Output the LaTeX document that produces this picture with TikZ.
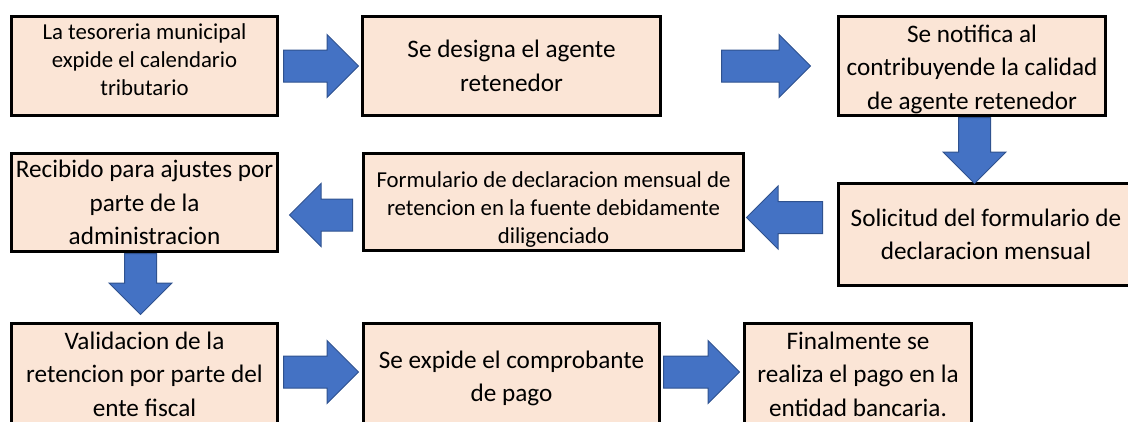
\documentclass[tikz,border=0pt]{standalone}
\usepackage{fontspec}
\setmainfont{Carlito}
\usepackage{tikz}
\usetikzlibrary{shapes.arrows}
\usepackage{xcolor}
\definecolor{boxfill}{HTML}{FBE5D6}
\definecolor{arrowblue}{HTML}{4472C4}
\definecolor{arrowedge}{HTML}{2F528F}

\tikzset{
  box/.style={draw=black, fill=boxfill, line width=3pt, align=center, inner sep=1pt,
    font=\fontsize{25.2}{33.5}\selectfont},
  smallbox/.style={box, font=\fontsize{22.8}{28}\selectfont},
  barrow/.style={single arrow, fill=arrowblue, draw=arrowedge, line width=1pt,
    minimum width=62pt, single arrow head extend=15.5pt, single arrow tip angle=90,
    inner xsep=0pt, inner ysep=15.5pt, text height=0pt, text depth=0pt, anchor=tail}
}

\begin{document}
\begin{tikzpicture}[x=1pt,y=-1pt]
\useasboundingbox (0,0) rectangle (1128,421);
\clip (0,0) rectangle (1128,421);

% First row of steps
\node[smallbox, minimum width=266pt, minimum height=99pt] (tesoreria) at (144.5,66)
  {La tesoreria municipal\\expide el calendario\\tributario\rule[-12pt]{0pt}{0pt}};
\node[box, minimum width=298pt, minimum height=99pt] (designa) at (511.5,66)
  {Se designa el agente\\retenedor};
\node[box, minimum width=267pt, minimum height=99pt] (notifica) at (972,66)
  {\rule{0pt}{24pt}Se notifica al\\contribuyende la calidad\\de agente retenedor};

% Second row, read from right to left
\node[box, minimum width=295pt, minimum height=102pt] (solicitud) at (986,234.5)
  {Solicitud del formulario de\\declaracion mensual};
\node[smallbox, minimum width=380pt, minimum height=97pt] (formulario) at (553.5,202)
  {\rule{0pt}{31pt}Formulario de declaracion mensual de\\retencion en la fuente debidamente\\diligenciado};
\node[box, minimum width=266pt, minimum height=98pt] (recibido) at (144.5,202.5)
  {Recibido para ajustes por\\parte de la\\administracion};

% Third row
\node[box, minimum width=266pt, minimum height=101pt] (validacion) at (144.5,374)
  {Validacion de la\\retencion por parte del\\ente fiscal};
\node[box, minimum width=296pt, minimum height=101pt] (expide) at (511.5,374)
  {\rule{0pt}{26pt}Se expide el comprobante\\de pago};
\node[box, minimum width=227pt, minimum height=101pt] (finalmente) at (858,374)
  {Finalmente se\\realiza el pago en la\\entidad bancaria.};

% Block arrows between the steps
\node[barrow, minimum height=75pt] (tesoreria-designa) at (283,66) {};
\node[barrow, minimum height=89pt] (designa-notifica) at (721,66) {};
\node[barrow, minimum height=66pt, rotate=-90] (notifica-solicitud) at (974.5,117) {};
\node[barrow, minimum height=76pt, rotate=180] (solicitud-formulario) at (823,217.5) {};
\node[barrow, minimum height=63pt, rotate=180] (formulario-recibido) at (353,215) {};
\node[barrow, minimum height=61pt, rotate=-90] (recibido-validacion) at (140.5,253) {};
\node[barrow, minimum height=75pt] (validacion-expide) at (283,372) {};
\node[barrow, minimum height=76pt] (expide-finalmente) at (663,372) {};
\end{tikzpicture}
\end{document}
